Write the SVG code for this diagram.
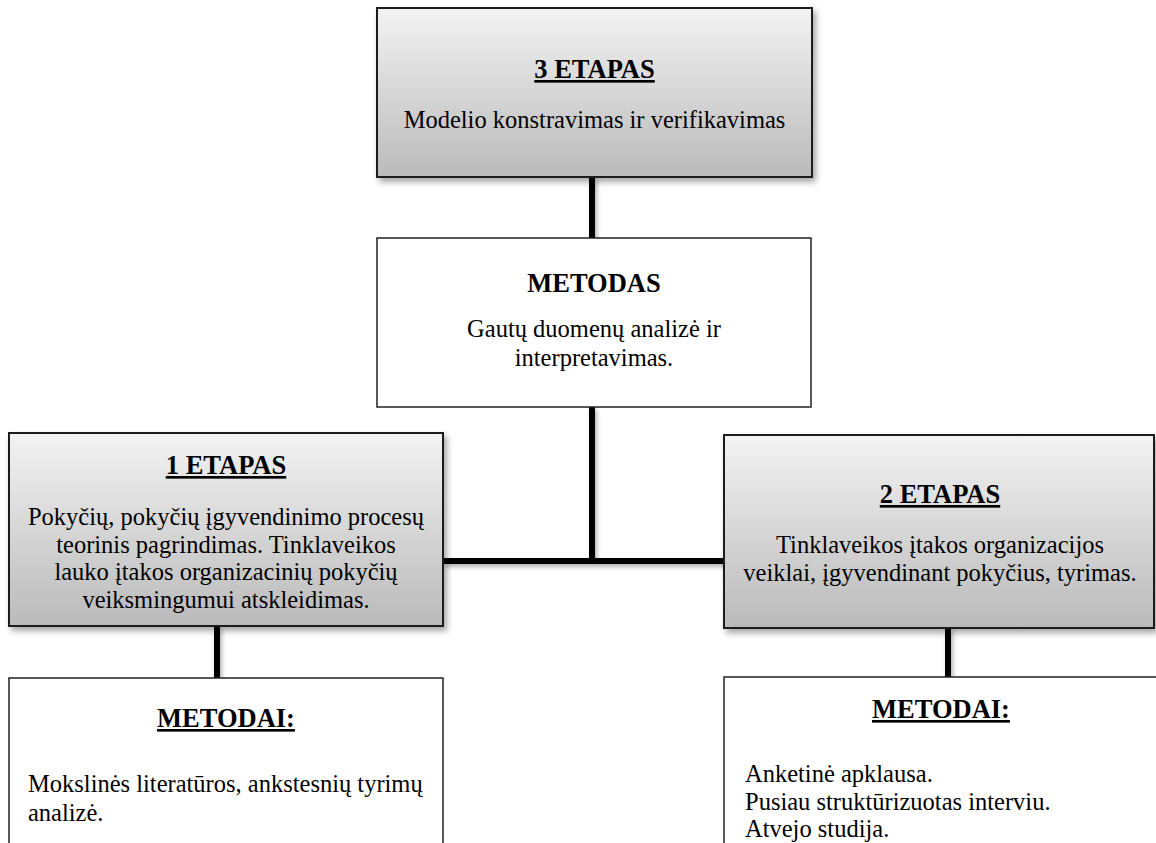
<svg xmlns="http://www.w3.org/2000/svg" width="1156" height="843" viewBox="0 0 1156 843">
<defs>
<linearGradient id="g" x1="0" y1="0" x2="0" y2="1">
<stop offset="0" stop-color="#f3f3f3"/>
<stop offset="1" stop-color="#bababa"/>
</linearGradient>
<filter id="sh" x="-10%" y="-10%" width="125%" height="130%">
<feDropShadow dx="3" dy="4" stdDeviation="3" flood-color="#000" flood-opacity="0.35"/>
</filter>
<filter id="lsh" x="-50%" y="-50%" width="200%" height="200%">
<feDropShadow dx="2" dy="3" stdDeviation="2" flood-color="#000" flood-opacity="0.3"/>
</filter>
</defs>
<style>
.gray{fill:url(#g);stroke:#1a1a1a;stroke-width:2;}
.white{fill:#fff;stroke:#222;stroke-width:1.5;}
.t{font-family:"Liberation Serif","Times New Roman",serif;font-weight:bold;font-size:26.5px;fill:#000;text-anchor:middle;}
.u{text-decoration:underline;}
.b{font-family:"Liberation Serif","Times New Roman",serif;font-size:24.5px;fill:#000;text-anchor:middle;}
.l{text-anchor:start;}
.c{stroke:#000;stroke-width:6;fill:none;}
</style>
<rect width="1156" height="843" fill="#fff"/>
<g id="connectors" filter="url(#lsh)">
<line class="c" x1="592" y1="177" x2="592" y2="238"/>
<line class="c" x1="592" y1="407" x2="592" y2="561"/>
<line class="c" x1="443" y1="561" x2="724" y2="561"/>
<line class="c" x1="217" y1="626" x2="217" y2="678"/>
<line class="c" x1="948" y1="628" x2="948" y2="677"/>
</g>
<g id="etapas3">
<rect class="gray" x="377" y="8" width="435" height="169" filter="url(#sh)"/>
<text class="t u" x="594.5" y="78">3 ETAPAS</text>
<text class="b" x="594.5" y="128">Modelio konstravimas ir verifikavimas</text>
</g>
<g id="metodas">
<rect class="white" x="377" y="238" width="434" height="169"/>
<text class="t" x="594" y="292">METODAS</text>
<text class="b" x="594" y="337">Gautų duomenų analizė ir</text>
<text class="b" x="594" y="366">interpretavimas.</text>
</g>
<g id="etapas1">
<rect class="gray" x="9" y="433" width="434" height="193" filter="url(#sh)"/>
<text class="t u" x="226" y="474">1 ETAPAS</text>
<text class="b" x="226" y="525">Pokyčių, pokyčių įgyvendinimo procesų</text>
<text class="b" x="226" y="552.5">teorinis pagrindimas. Tinklaveikos</text>
<text class="b" x="226" y="580">lauko įtakos organizacinių pokyčių</text>
<text class="b" x="226" y="607.5">veiksmingumui atskleidimas.</text>
</g>
<g id="etapas2">
<rect class="gray" x="724" y="435" width="430" height="193" filter="url(#sh)"/>
<text class="t u" x="940" y="503">2 ETAPAS</text>
<text class="b" x="940" y="553">Tinklaveikos įtakos organizacijos</text>
<text class="b" x="940" y="581">veiklai, įgyvendinant pokyčius, tyrimas.</text>
</g>
<g id="metodai1">
<rect class="white" x="9" y="678" width="434" height="200"/>
<text class="t u" x="226" y="727">METODAI:</text>
<text class="b l" x="28" y="792">Mokslinės literatūros, ankstesnių tyrimų</text>
<text class="b l" x="28" y="821">analizė.</text>
</g>
<g id="metodai2">
<rect class="white" x="724" y="677" width="460" height="200"/>
<text class="t u" x="941" y="718">METODAI:</text>
<text class="b l" x="745" y="782">Anketinė apklausa.</text>
<text class="b l" x="745" y="810">Pusiau struktūrizuotas interviu.</text>
<text class="b l" x="745" y="837">Atvejo studija.</text>
</g>
</svg>
